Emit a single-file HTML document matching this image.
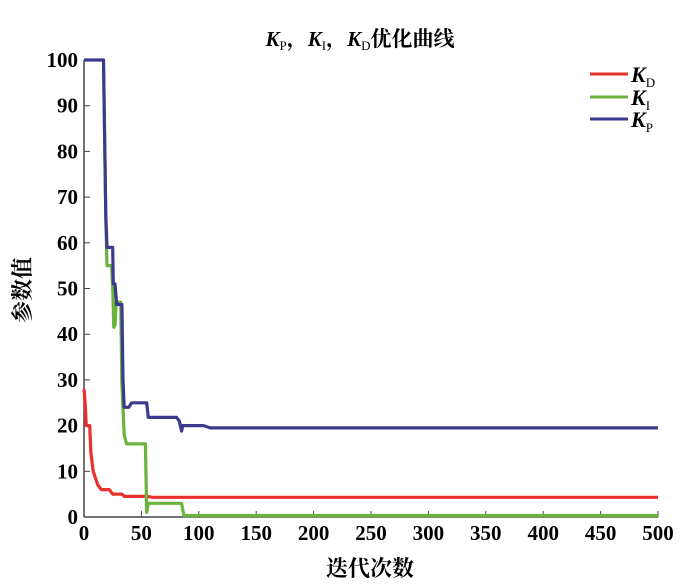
<!DOCTYPE html>
<html><head><meta charset="utf-8"><style>
body{margin:0;background:#fff}
svg text{font-family:"Liberation Serif","Noto Serif CJK SC",serif}
</style></head><body>
<svg id="c" width="700" height="580" xmlns="http://www.w3.org/2000/svg">
<text x="360" y="46" text-anchor="middle" font-size="21" font-weight="bold"><tspan font-style="italic">K</tspan><tspan font-size="13" font-weight="normal" dy="4">P</tspan><tspan dy="-4">，</tspan><tspan font-style="italic">K</tspan><tspan font-size="13" font-weight="normal" dy="4">I</tspan><tspan dy="-4">，</tspan><tspan font-style="italic">K</tspan><tspan font-size="13" font-weight="normal" dy="4">D</tspan><tspan dy="-4">优化曲线</tspan></text>
<text transform="translate(30,290) rotate(-90)" text-anchor="middle" font-size="22" font-weight="bold">参数值</text>
<text x="370" y="576" text-anchor="middle" font-size="22" font-weight="bold">迭代次数</text>
<g id="axes"></g>
<g id="series"></g>
<g>
<line x1="590" y1="74" x2="628" y2="74" stroke="#e8302c" stroke-width="3"/>
<text x="631" y="82" font-size="22" font-style="italic" font-weight="bold">K<tspan font-size="13" font-style="normal" font-weight="normal" dy="5">D</tspan></text>
<line x1="590" y1="97" x2="628" y2="97" stroke="#6cb33e" stroke-width="3"/>
<text x="631" y="105" font-size="22" font-style="italic" font-weight="bold">K<tspan font-size="13" font-style="normal" font-weight="normal" dy="5">I</tspan></text>
<line x1="590" y1="119" x2="628" y2="119" stroke="#3b3b8e" stroke-width="3"/>
<text x="631" y="127" font-size="22" font-style="italic" font-weight="bold">K<tspan font-size="13" font-style="normal" font-weight="normal" dy="5">P</tspan></text>
</g>
</svg>
<script>
const xTicks=[0,50,100,150,200,250,300,350,400,450,500];
const yTicks=[0,10,20,30,40,50,60,70,80,90,100];
const kpX=[0,17,19,20,25,25.5,27,28.5,33,34,35,39,41.5,47,54.6,56,80.7,83,85,86,104,110,500];
const kpY=[100,100,66,59,59,51,51,46.5,46.5,30,24,24,25,25,25,21.8,21.8,21,18.8,20,20,19.5,19.5];
const kiX=[17,19,20,24,25,26,27,28,32,33,35,37,53.5,54.6,56,85,87,500];
const kiY=[100,65,55,55,50,41.5,42,47,47,29,18,16,16,1,3,3,0.3,0.3];
const kdX=[0,1,2,5,6,8,10,12,15,22,25,33,35,55,60,500];
const kdY=[28,25,20,20,14,10,8.5,7,6,6,5,5,4.5,4.5,4.3,4.3];
const NS="http://www.w3.org/2000/svg";
const X0=84,X1=658,Y0=517,Y1=60;
const sx=v=>X0+(v-0)/500*(X1-X0);
const sy=v=>Y0-(v-0)/100*(Y0-Y1);
const axes=document.getElementById('axes'),ser=document.getElementById('series');
function mk(tag,attrs,parent){const e=document.createElementNS(NS,tag);for(const k in attrs)e.setAttribute(k,attrs[k]);parent.appendChild(e);return e;}
let a=mk('line',{x1:X0,y1:Y0,x2:X1,y2:Y0,stroke:'#444','stroke-width':1.5},axes);


a=mk('line',{x1:X0,y1:Y0,x2:X0,y2:Y1,stroke:'#444','stroke-width':1.5},axes);


xTicks.forEach(v=>{mk('line',{x1:sx(v),y1:Y0,x2:sx(v),y2:Y0-6,stroke:'#444'},axes);
 const t=mk('text',{x:sx(v),y:Y0+23,'text-anchor':'middle','font-size':21,'font-weight':'bold'},axes);t.textContent=v;
 
 });
yTicks.forEach(v=>{mk('line',{x1:X0,y1:sy(v),x2:X0+6,y2:sy(v),stroke:'#444'},axes);
 const t=mk('text',{x:X0-6,y:sy(v)+7,'text-anchor':'end','font-size':21,'font-weight':'bold'},axes);t.textContent=v;
 
 });
function draw(xs,ys,col,name){let d='';xs.forEach((x,i)=>{d+=(i?'L':'M')+sx(x).toFixed(1)+' '+sy(ys[i]).toFixed(1);});
 const p=mk('path',{d:d,fill:'none',stroke:col,'stroke-width':3.2,'stroke-linejoin':'round'},ser);
 
 }
draw(kdX,kdY,'#e8302c','kd-line');
draw(kiX,kiY,'#6cb33e','ki-line');
draw(kpX,kpY,'#3b3b8e','kp-line');
</script>
</body></html>
